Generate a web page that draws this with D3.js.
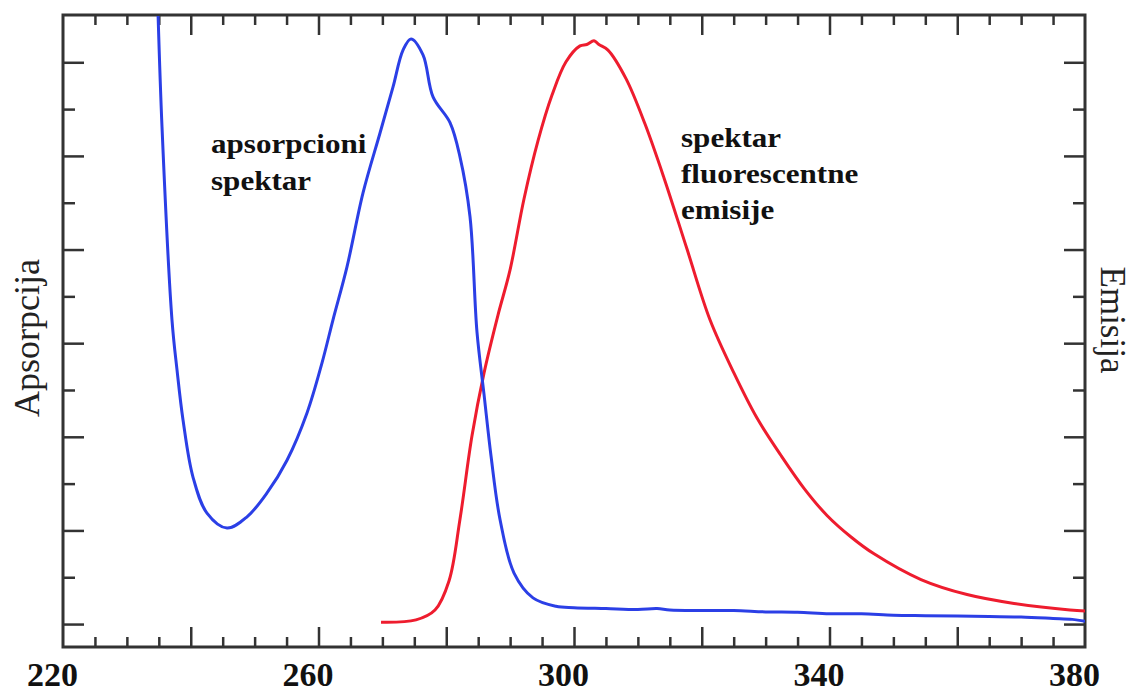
<!DOCTYPE html>
<html>
<head>
<meta charset="utf-8">
<script src="https://cdn.jsdelivr.net/npm/d3@7"></script>
<style>
  body { margin: 0; background: #fff; }
  text { font-family: "Liberation Serif", "Times New Roman", serif; }
</style>
</head>
<body>
<div class="container"></div>
<script>
// wavelength (nm) and absorbance of the absorption spectrum
const absWl = [234.8, 235.5, 237.06, 237.85, 238.79, 240.35, 242.54, 245.68, 248.81, 251.94,
  255.07, 258.2, 260.55, 262.27, 264.46, 266.97, 269.63, 271.66, 273.23, 274.48,
  276.36, 277.93, 280.59, 282.15, 283.72, 284.81, 285.91, 287.01, 288.41, 290.61,
  293.58, 297.18, 300, 305, 310, 313, 315, 320, 325, 330, 335, 340, 345, 350, 355,
  360, 365, 370, 375, 378, 380];
const absVal = [1.34, 1.062, 0.65, 0.543, 0.436, 0.314, 0.237, 0.205, 0.229, 0.28,
  0.35, 0.451, 0.558, 0.65, 0.763, 0.921, 1.049, 1.147, 1.226, 1.25,
  1.216, 1.126, 1.071, 0.998, 0.87, 0.624, 0.491, 0.359, 0.224, 0.109,
  0.056, 0.038, 0.035, 0.033, 0.031, 0.033, 0.03, 0.029, 0.029, 0.026, 0.025, 0.022, 0.022, 0.019, 0.018,
  0.017, 0.016, 0.015, 0.012, 0.01, 0.006];

// wavelength (nm) and intensity of the fluorescence emission spectrum
const emWl = [269.79, 275.26, 278.24, 280.43, 282.15, 284.03, 285.91, 288.1, 289.98, 292.17,
  294.36, 296.56, 298.75, 300.94, 302, 303.13, 303.9, 305.32, 308.14, 311.12,
  314.09, 317.69, 321.29, 325.05, 328.65, 332.41, 336.01, 339.61, 343.37, 346.97,
  354.32, 361.53, 368.89, 377.65, 380];
const emVal = [0.004, 0.009, 0.03, 0.092, 0.224, 0.402, 0.536, 0.66, 0.756, 0.908,
  1.032, 1.13, 1.201, 1.235, 1.238, 1.246, 1.238, 1.226, 1.165, 1.068,
  0.953, 0.801, 0.65, 0.536, 0.44, 0.36, 0.29, 0.232, 0.186, 0.15,
  0.095, 0.063, 0.044, 0.03, 0.028];

const xLabels = [220, 260, 300, 340, 380];
const yLeftTitle = "Apsorpcija";
const yRightTitle = "Emisija";
const absNote = ["apsorpcioni", "spektar"];
const emNote = ["spektar", "fluorescentne", "emisije"];

const w = 1134;
const h = 695;
const plotL = 63, plotR = 1085, plotT = 15, plotB = 647;

const svg = d3.select(".container")
  .append("svg")
  .attr("width", w)
  .attr("height", h);

const xScale = d3.scaleLinear().domain([220, 380]).range([plotL, plotR]);
const yScale = d3.scaleLinear().domain([-0.049, 1.301]).range([plotB, plotT]);

const minorX = d3.range(225, 380, 5).filter(v => v % 20 !== 0);
const majorX = d3.range(240, 380, 20);
const yTicks = d3.range(0, 13).map(i => i / 10);
const majorY = yTicks.filter((v, i) => i % 2 === 0);
const minorY = yTicks.filter((v, i) => i % 2 === 1);

function tickStyle(g) {
  g.select(".domain").remove();
  g.selectAll("line").attr("stroke", "#333").attr("stroke-width", 2.5);
  g.selectAll("text").remove();
}

// bottom & top ticks (pointing inside)
[[majorX, 20], [minorX, 10]].forEach(([vals, len]) => {
  svg.append("g")
    .attr("transform", `translate(0,${plotB})`)
    .call(d3.axisBottom(xScale).tickValues(vals).tickSize(-len))
    .call(tickStyle);
  svg.append("g")
    .attr("transform", `translate(0,${plotT})`)
    .call(d3.axisTop(xScale).tickValues(vals).tickSize(-len))
    .call(tickStyle);
});

// left & right ticks
[[majorY, 21], [minorY, 12]].forEach(([vals, len]) => {
  svg.append("g")
    .attr("transform", `translate(${plotL},0)`)
    .call(d3.axisLeft(yScale).tickValues(vals).tickSize(-len))
    .call(tickStyle);
  svg.append("g")
    .attr("transform", `translate(${plotR},0)`)
    .call(d3.axisRight(yScale).tickValues(vals).tickSize(-len))
    .call(tickStyle);
});

// x labels
const xLab = svg.append("g")
  .attr("transform", `translate(0,${plotB})`)
  .call(d3.axisBottom(xScale).tickValues(xLabels).tickSize(0).tickPadding(15));
xLab.select(".domain").remove();
xLab.selectAll("text")
  .attr("dx", -11)
  .style("font-family", "'Liberation Serif', serif")
  .style("font-size", "34px")
  .style("font-weight", "bold")
  .attr("fill", "#111");

// frame
svg.append("rect")
  .attr("x", plotL)
  .attr("y", plotT)
  .attr("width", plotR - plotL)
  .attr("height", plotB - plotT)
  .attr("fill", "none")
  .attr("stroke", "#333")
  .attr("stroke-width", 3);

svg.append("clipPath")
  .attr("id", "plot-clip")
  .append("rect")
  .attr("x", plotL)
  .attr("y", plotT + 1)
  .attr("width", plotR - plotL)
  .attr("height", plotB - plotT - 1);

const line = d3.line()
  .x(d => xScale(d[0]))
  .y(d => yScale(d[1]))
  .curve(d3.curveCatmullRom.alpha(0.5));

svg.append("path")
  .datum(emWl.map((v, i) => [v, emVal[i]]))
  .attr("clip-path", "url(#plot-clip)")
  .attr("fill", "none")
  .attr("stroke", "#ee1c2e")
  .attr("stroke-width", 3)
  .attr("d", line);

svg.append("path")
  .datum(absWl.map((v, i) => [v, absVal[i]]))
  .attr("clip-path", "url(#plot-clip)")
  .attr("fill", "none")
  .attr("stroke", "#2b3fe6")
  .attr("stroke-width", 3)
  .attr("d", line);

// axis titles
svg.append("text")
  .attr("transform", "translate(39,338) rotate(-90)")
  .attr("text-anchor", "middle")
  .style("font-size", "36px")
  .attr("fill", "#222")
  .text(yLeftTitle);

svg.append("text")
  .attr("transform", "translate(1101,320) rotate(90)")
  .attr("text-anchor", "middle")
  .style("font-size", "35px")
  .attr("fill", "#222")
  .text(yRightTitle);

// notes
function note(lines, x, y0, step) {
  lines.forEach((t, i) => {
    svg.append("text")
      .attr("transform", `translate(${x},${y0 + i * step}) scale(1.11,1)`)
      .style("font-size", "28px")
      .style("font-weight", "bold")
      .attr("fill", "#111")
      .text(t);
  });
}
note(absNote, 211, 153, 37);
note(emNote, 681, 147, 36);
</script>
</body>
</html>
